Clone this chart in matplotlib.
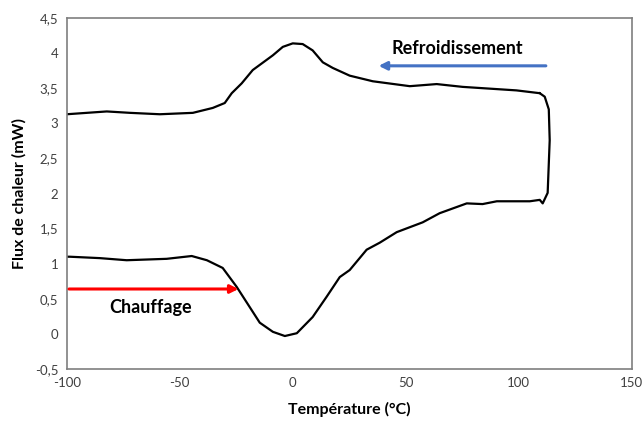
#!/usr/bin/env python3
"""DSC curve: heat flow vs temperature, heating and cooling"""
import matplotlib
matplotlib.use("Agg")
import matplotlib.pyplot as plt
from matplotlib.ticker import FuncFormatter

# heating branch (left to right), then jump up at the end of the ramp
heat_t = [-100, -98.7, -85.4, -73.5, -55.8, -44.7, -38, -31, -24.8, -19, -14.6,
          -8.8, -3.5, 1.8, 8.8, 15, 20.8, 25.2, 29.6, 32.7, 38.5, 46, 57.5,
          65, 77, 84, 90.3, 104.9, 109.3, 110.6, 112.8, 113.7, 113.3, 111.5, 109.3]
heat_f = [1.10, 1.10, 1.08, 1.05, 1.07, 1.11, 1.05, 0.94, 0.67, 0.38, 0.16,
          0.03, -0.03, 0.01, 0.24, 0.53, 0.81, 0.91, 1.08, 1.20, 1.30, 1.45, 1.59,
          1.72, 1.86, 1.85, 1.89, 1.89, 1.91, 1.86, 2.01, 2.76, 3.20, 3.38, 3.43]

# cooling branch (right to left)
cool_t = [109.3, 99, 75.2, 63.7, 51.8, 35.4, 25.2, 17.7, 13.3, 8.8, 4.4, 0,
          -4.4, -8.8, -17.7, -22.6, -27, -30.1, -35.4, -44.2, -58.8, -72,
          -82.3, -100]
cool_f = [3.43, 3.47, 3.52, 3.56, 3.53, 3.60, 3.68, 3.79, 3.87, 4.04, 4.13, 4.14,
          4.09, 3.97, 3.76, 3.57, 3.43, 3.29, 3.22, 3.15, 3.13, 3.15,
          3.17, 3.13]

plt.rcParams["font.family"] = ["Lato", "DejaVu Sans"]
plt.rcParams["axes.unicode_minus"] = False

fig = plt.figure(figsize=(6.42, 4.21), dpi=100)
ax = fig.add_axes([0.104, 0.1235, 0.88, 0.8335])

ax.plot(heat_t, heat_f, color="black", lw=1.6, solid_joinstyle="round")
ax.plot(cool_t, cool_f, color="black", lw=1.6, solid_joinstyle="round")

ax.set_xlim(-100, 150)
ax.set_ylim(-0.5, 4.5)
ax.set_xticks(range(-100, 151, 50))
ax.set_yticks([i * 0.5 for i in range(-1, 10)])
ax.yaxis.set_major_formatter(FuncFormatter(lambda v, p: f"{v:g}".replace(".", ",")))
ax.tick_params(length=0, labelsize=9.5, labelcolor="#404040", pad=6)

for s in ax.spines.values():
    s.set_color("#7f7f7f")
    s.set_linewidth(1.2)

ax.set_xlabel("Température (°C)", fontsize=11.5, fontweight="bold", labelpad=9)
ax.set_ylabel("Flux de chaleur (mW)", fontsize=11.5, fontweight="bold", labelpad=6)

# direction arrows
ax.annotate("", xy=(-24, 0.64), xytext=(-99, 0.64),
            arrowprops=dict(arrowstyle="-|>", color="#ff0000", lw=2.2,
                            mutation_scale=12, shrinkA=0, shrinkB=0))
ax.text(-63, 0.38, "Chauffage", ha="center", va="center",
        fontsize=13, fontweight="bold")

ax.annotate("", xy=(38, 3.82), xytext=(112, 3.82),
            arrowprops=dict(arrowstyle="-|>", color="#4472c4", lw=2.2,
                            mutation_scale=12, shrinkA=0, shrinkB=0))
ax.text(73, 4.07, "Refroidissement", ha="center", va="center",
        fontsize=13, fontweight="bold")

fig.savefig("out.png", dpi=100)
